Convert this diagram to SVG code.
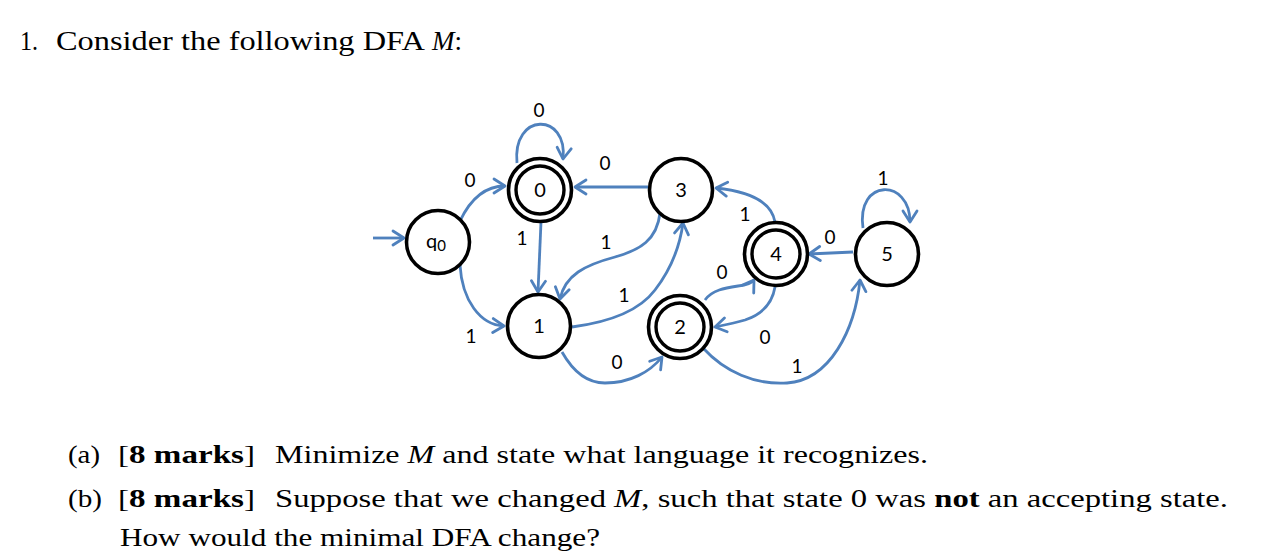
<svg xmlns="http://www.w3.org/2000/svg" width="1276" height="560" viewBox="0 0 1276 560">
<style>
.st{fill:#fff;stroke:#000;stroke-width:3.6}
.in{fill:none;stroke:#000;stroke-width:3.4}
.nl{font-family:Lato,"Open Sans","Liberation Sans",sans-serif;font-size:20px;fill:#000;text-anchor:middle}
.el{font-family:Lato,"Open Sans","Liberation Sans",sans-serif;font-size:19px;fill:#000;text-anchor:middle}
.e{fill:none;stroke:#4f81bd;stroke-width:2.8;marker-end:url(#arr)}
.tx{font-family:"Liberation Serif","Times New Roman",serif;fill:#000}
</style>
<defs>
<marker id="arr" viewBox="-13 -9 15 18" refX="0" refY="0" markerWidth="15" markerHeight="18" markerUnits="userSpaceOnUse" orient="auto">
<path d="M-11,-7 L0,0 L-11,7" fill="none" stroke="#4f81bd" stroke-width="2.8" stroke-linecap="round" stroke-linejoin="round"/>
</marker>
</defs>
<rect width="1276" height="560" fill="#fff"/>

<text class="tx" x="20" y="50" font-size="27" textLength="18" lengthAdjust="spacingAndGlyphs">1.</text>
<text class="tx" x="56" y="50" font-size="27" textLength="369" lengthAdjust="spacingAndGlyphs">Consider the following DFA</text>
<text class="tx" x="432" y="50" font-size="27"><tspan font-style="italic">M</tspan>:</text>

<g id="edges">
<path class="e" d="M373,238 L404,238"/>
<path class="e" d="M460,221 C470,200 485,186 505,186"/>
<path class="e" d="M460,265 C462,300 480,325 504,326"/>
<path class="e" d="M517,163 C512,112 568,112 563,159"/>
<path class="e" d="M648,187 L575,187"/>
<path class="e" d="M541,222 L538,292"/>
<path class="e" d="M660,213 C657,240 640,250 615,257 C585,265 565,275 560,299"/>
<path class="e" d="M572,327 C610,322 640,310 655,290 C672,268 680,245 683,223"/>
<path class="e" d="M562,352 C575,375 590,383 605,383 C630,383 650,372 662,357"/>
<path class="e" d="M775,222 C772,205 755,192 716,188"/>
<path class="e" d="M853,252 L809,254"/>
<path class="e" d="M863,228 C856,178 910,178 910,222"/>
<path class="e" d="M705,300 C712,290 725,288 738,286 C748,285 752,283 754,280"/>
<path class="e" d="M775,287 C772,305 760,315 745,320 C735,323 725,325 715,327"/>
<path class="e" d="M703,348 C725,372 755,385 787,383 C830,380 855,330 860,280"/>
</g>

<g id="edge-labels">
<text class="el" x="470" y="187">0</text>
<text class="el" x="471" y="343">1</text>
<text class="el" x="539" y="117">0</text>
<text class="el" x="605" y="170">0</text>
<text class="el" x="522" y="245">1</text>
<text class="el" x="606" y="249">1</text>
<text class="el" x="624" y="302">1</text>
<text class="el" x="617" y="369">0</text>
<text class="el" x="745" y="221">1</text>
<text class="el" x="722" y="279">0</text>
<text class="el" x="765" y="344">0</text>
<text class="el" x="797" y="373">1</text>
<text class="el" x="830" y="244">0</text>
<text class="el" x="883" y="185">1</text>
</g>

<g id="q0"><circle class="st" cx="438" cy="242" r="31.5"/><text class="nl" x="436" y="248">q<tspan font-size="15" dy="3">0</tspan></text></g>
<g id="s0"><circle class="st" cx="540" cy="190" r="31.5"/><circle class="in" cx="540" cy="190" r="24"/><text class="nl" x="540" y="197">0</text></g>
<g id="s3"><circle class="st" cx="681" cy="190" r="31.5"/><text class="nl" x="681" y="197">3</text></g>
<g id="s1"><circle class="st" cx="539" cy="326" r="31.5"/><text class="nl" x="539" y="333">1</text></g>
<g id="s2"><circle class="st" cx="680" cy="327" r="31.5"/><circle class="in" cx="680" cy="327" r="24"/><text class="nl" x="680" y="334">2</text></g>
<g id="s4"><circle class="st" cx="776" cy="254" r="31.5"/><circle class="in" cx="776" cy="254" r="24"/><text class="nl" x="776" y="261">4</text></g>
<g id="s5"><circle class="st" cx="887" cy="254" r="31.5"/><text class="nl" x="887" y="261">5</text></g>

<text class="tx" x="68" y="463" font-size="26" textLength="32" lengthAdjust="spacingAndGlyphs">(a)</text>
<text class="tx" x="118" y="463" font-size="26" textLength="137" lengthAdjust="spacingAndGlyphs">[<tspan font-weight="bold">8 marks</tspan>]</text>
<text class="tx" x="275" y="463" font-size="26" textLength="653" lengthAdjust="spacingAndGlyphs">Minimize <tspan font-style="italic">M</tspan> and state what language it recognizes.</text>

<text class="tx" x="68" y="507" font-size="26" textLength="34" lengthAdjust="spacingAndGlyphs">(b)</text>
<text class="tx" x="118" y="507" font-size="26" textLength="137" lengthAdjust="spacingAndGlyphs">[<tspan font-weight="bold">8 marks</tspan>]</text>
<text class="tx" x="275" y="507" font-size="26" textLength="953" lengthAdjust="spacingAndGlyphs">Suppose that we changed <tspan font-style="italic">M</tspan>, such that state 0 was <tspan font-weight="bold">not</tspan> an accepting state.</text>
<text class="tx" x="120" y="546" font-size="26" textLength="480" lengthAdjust="spacingAndGlyphs">How would the minimal DFA change?</text>
</svg>
